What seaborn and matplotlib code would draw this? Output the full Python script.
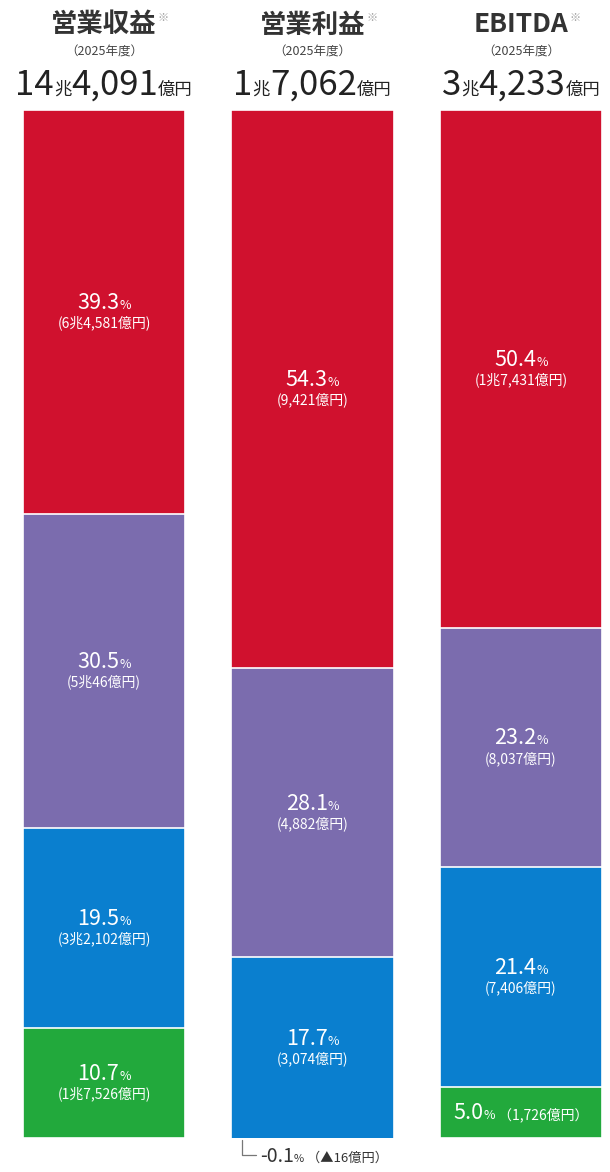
import matplotlib
matplotlib.use("Agg")
import matplotlib.pyplot as plt
import matplotlib.transforms as mtransforms
from matplotlib.lines import Line2D
import numpy as np
import pandas as pd
import seaborn as sns

W, H = 610, 1172

# --- data ---
metrics = ["営業収益", "営業利益", "EBITDA"]
year_label = "（2025年度）"
total_big1 = ["14", "1", "3"]
total_big2 = ["4,091", "7,062", "4,233"]

seg_keys = ["red", "purple", "blue", "green"]
share_red = [39.3, 54.3, 50.4]
share_purple = [30.5, 28.1, 23.2]
share_blue = [19.5, 17.7, 21.4]
share_green = [10.7, -0.1, 5.0]
amt_red = ["6兆4,581億円", "9,421億円", "1兆7,431億円"]
amt_purple = ["5兆46億円", "4,882億円", "8,037億円"]
amt_blue = ["3兆2,102億円", "3,074億円", "7,406億円"]
amt_green = ["1兆7,526億円", "▲16億円", "1,726億円"]

palette = {"red": "#D0112E", "purple": "#7B6CAE", "blue": "#0A7FCF", "green": "#22A93C"}

shares = [share_red, share_purple, share_blue, share_green]
amounts = [amt_red, amt_purple, amt_blue, amt_green]

rows = []
for i, m in enumerate(metrics):
    vals = [s[i] for s in shares]
    cum = np.cumsum(vals)
    for k, key in enumerate(seg_keys):
        rows.append({"metric": m, "seg": key, "share": vals[k], "cum": cum[k],
                     "mid": cum[k] - vals[k] / 2, "amt": amounts[k][i], "idx": i})
df = pd.DataFrame(rows)

sns.set_theme(style="white")
plt.rcParams["font.family"] = ["Noto Sans CJK JP", "DejaVu Sans"]

fig = plt.figure(figsize=(W / 100, H / 100), dpi=100)
ax = fig.add_axes([0, 34 / H, 1, 1028 / H])

# stacked bars: draw cumulative totals, largest first, so later layers sit on top
sns.barplot(data=df, x="metric", y="cum", hue="seg", order=metrics,
            hue_order=seg_keys[::-1], palette=palette, dodge=False, width=0.78,
            saturation=1, edgecolor="white", linewidth=1.2, legend=False, ax=ax)
ax.set_ylim(100, 0)
ax.set_xlim(-0.499, 2.427)
ax.axis("off")

fig.canvas.draw()
renderer = fig.canvas.get_renderer()
ident = mtransforms.IdentityTransform()


def put_pieces(xc, y_base, pieces, color, align="center"):
    arts, widths = [], []
    for s, size, wt in pieces:
        t = fig.text(0, 0, s, fontsize=size, fontweight=wt, color=color,
                     va="baseline", ha="left", transform=ident)
        widths.append(t.get_window_extent(renderer).width)
        arts.append(t)
    x = xc - sum(widths) / 2 if align == "center" else xc
    for t, w in zip(arts, widths):
        t.set_position((x, H - y_base))
        x += w
    return sum(widths)


def px(i, yv):
    x, y = ax.transData.transform((i, yv))
    return x, H - y


# headers
for i, m in enumerate(metrics):
    xc, _ = px(i, 0)
    t = fig.text(xc, H - 25, m, fontsize=19, fontweight="bold", color="#333333",
                 ha="center", va="center", transform=ident)
    tw = t.get_window_extent(renderer).width
    fig.text(xc + tw / 2 + 1, H - 18, "※", fontsize=8, color="#A0A0A0",
             ha="left", va="center", transform=ident)
    fig.text(xc, H - 52, year_label, fontsize=9, color="#444444",
             ha="center", va="center", transform=ident)
    put_pieces(xc, 95, [(total_big1[i], 25, "normal"), ("兆", 12.5, "normal"),
                        (total_big2[i], 25, "normal"), ("億円", 12.5, "normal")], "#222222")

# segment labels
for _, r in df.iterrows():
    xc, c = px(r["idx"], r["mid"])
    if r["share"] < 0:
        # note below the bar
        left, bottom = px(r["idx"] - 0.39, 100)
        lx = left + 11
        ly = 1155
        fig.add_artist(Line2D([lx, lx, lx + 14], [H - bottom - 2, H - ly, H - ly],
                              color="#777777", lw=0.9, transform=ident))
        put_pieces(lx + 18, ly + 7, [(f"{r['share']:.1f}", 14, "normal"), ("%", 8, "normal"),
                                     (f" （{r['amt']}）", 9.5, "normal")], "#333333", align="left")
    elif r["share"] < 8:
        put_pieces(xc, c + 7, [(f"{r['share']:.1f}", 15.5, "normal"), ("%", 9, "normal"),
                               (f" （{r['amt']}）", 10, "normal")], "white")
    else:
        put_pieces(xc, c - 3, [(f"{r['share']:.1f}", 15.5, "normal"), ("%", 9, "normal")], "white")
        fig.text(xc, H - (c + 11), f"({r['amt']})", fontsize=10, color="white",
                 ha="center", va="center", transform=ident)

fig.savefig("out.png", dpi=100)
